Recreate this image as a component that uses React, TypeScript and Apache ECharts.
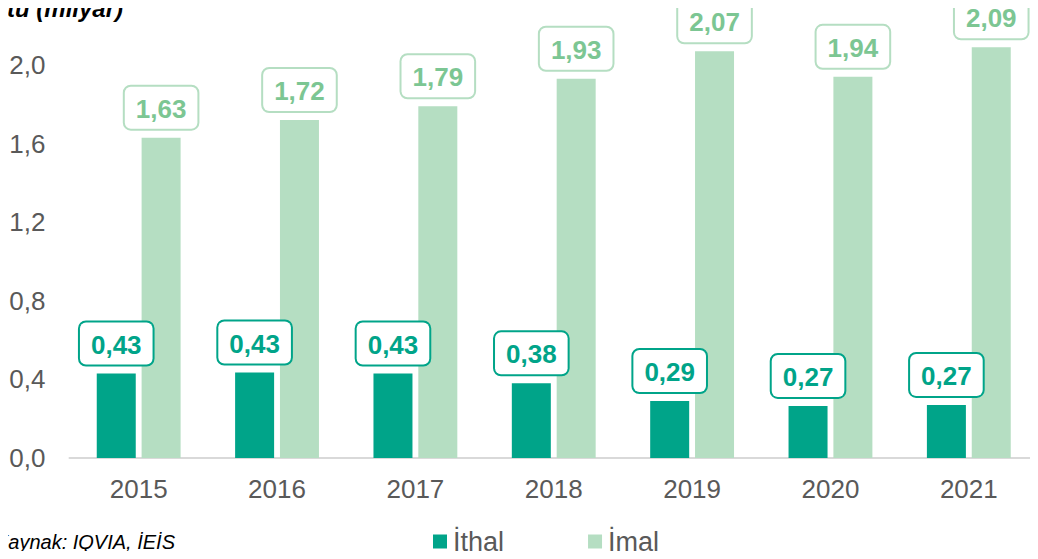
import React, { useEffect, useRef } from "react";
import * as echarts from "echarts";

const years = ["2015", "2016", "2017", "2018", "2019", "2020", "2021"];
const ithal = [0.43, 0.435, 0.43, 0.38, 0.29, 0.265, 0.27];
const ithalLabels = ["0,43", "0,43", "0,43", "0,38", "0,29", "0,27", "0,27"];
const imal = [1.63, 1.72, 1.79, 1.93, 2.07, 1.94, 2.09];
const imalLabels = ["1,63", "1,72", "1,79", "1,93", "2,07", "1,94", "2,09"];
const yTicks = [0, 0.4, 0.8, 1.2, 1.6, 2.0];

const FONT = "'Liberation Sans', Arial, sans-serif";
const DARK = "#00A489";
const LIGHT = "#B5DEC2";
const LIGHT_TEXT = "#7CC693";
const GREY = "#595959";

export default function App() {
  const ref = useRef<HTMLDivElement>(null);
  useEffect(() => {
    if (!ref.current) return;
    const chart = echarts.init(ref.current, undefined, { renderer: "svg" });
    const label = (texts: string[], color: string, border: string) => ({
      show: true,
      position: "top",
      distance: 9,
      formatter: (p: any) => texts[p.dataIndex],
      fontFamily: FONT,
      fontWeight: "bold",
      fontSize: 26,
      lineHeight: 26,
      color,
      backgroundColor: "#ffffff",
      borderColor: border,
      borderWidth: 2,
      borderRadius: 6,
      padding: [9, 11, 7, 11],
    });
    chart.setOption({
      animation: false,
      grid: { left: 69.5, right: -6.5, top: 65, bottom: 101, containLabel: false },
      xAxis: {
        type: "category",
        data: years,
        axisLine: { lineStyle: { color: "#D9D9D9", width: 2 } },
        axisTick: { show: false },
        axisLabel: { color: GREY, fontFamily: FONT, fontSize: 26, margin: 18 },
      },
      yAxis: {
        type: "value",
        min: 0,
        max: 2.0,
        interval: 0.4,
        splitLine: { show: false },
        axisLine: { show: false },
        axisTick: { show: false },
        axisLabel: {
          color: GREY,
          fontFamily: FONT,
          fontSize: 26,
          margin: 24,
          formatter: (v: number) => (yTicks.some((t) => Math.abs(t - v) < 1e-6) ? v.toFixed(1).replace(".", ",") : ""),
        },
      },
      legend: {
        data: ["İthal", "İmal"],
        left: 428,
        top: 523,
        icon: "rect",
        itemWidth: 14,
        itemHeight: 14,
        itemGap: 84,
        textStyle: { color: GREY, fontFamily: FONT, fontSize: 27, padding: [0, 0, 0, 1] },
      },
      graphic: [
        {
          type: "text",
          x: 123,
          y: 20,
          style: {
            text: "Kutu (milyar)",
            textAlign: "right",
            textVerticalAlign: "bottom",
            font: "italic bold 24px " + FONT,
            fill: "#000000",
          },
        },
        {
          type: "text",
          x: 175,
          y: 542,
          style: {
            text: "Kaynak: IQVIA, İEİS",
            textAlign: "right",
            textVerticalAlign: "middle",
            font: "italic 20px " + FONT,
            fill: "#000000",
          },
        },
      ],
      series: [
        {
          name: "İthal",
          type: "bar",
          data: ithal,
          barWidth: 39,
          barGap: "15%",
          z: 3,
          itemStyle: { color: DARK },
          label: label(ithalLabels, DARK, DARK),
        },
        {
          name: "İmal",
          type: "bar",
          data: imal,
          barWidth: 39,
          clip: false,
          z: 2,
          itemStyle: { color: LIGHT },
          label: label(imalLabels, LIGHT_TEXT, LIGHT),
        },
      ],
    });
    return () => chart.dispose();
  }, []);
  return <div ref={ref} style={{ width: 1038, height: 559, margin: -8 }} />;
}
